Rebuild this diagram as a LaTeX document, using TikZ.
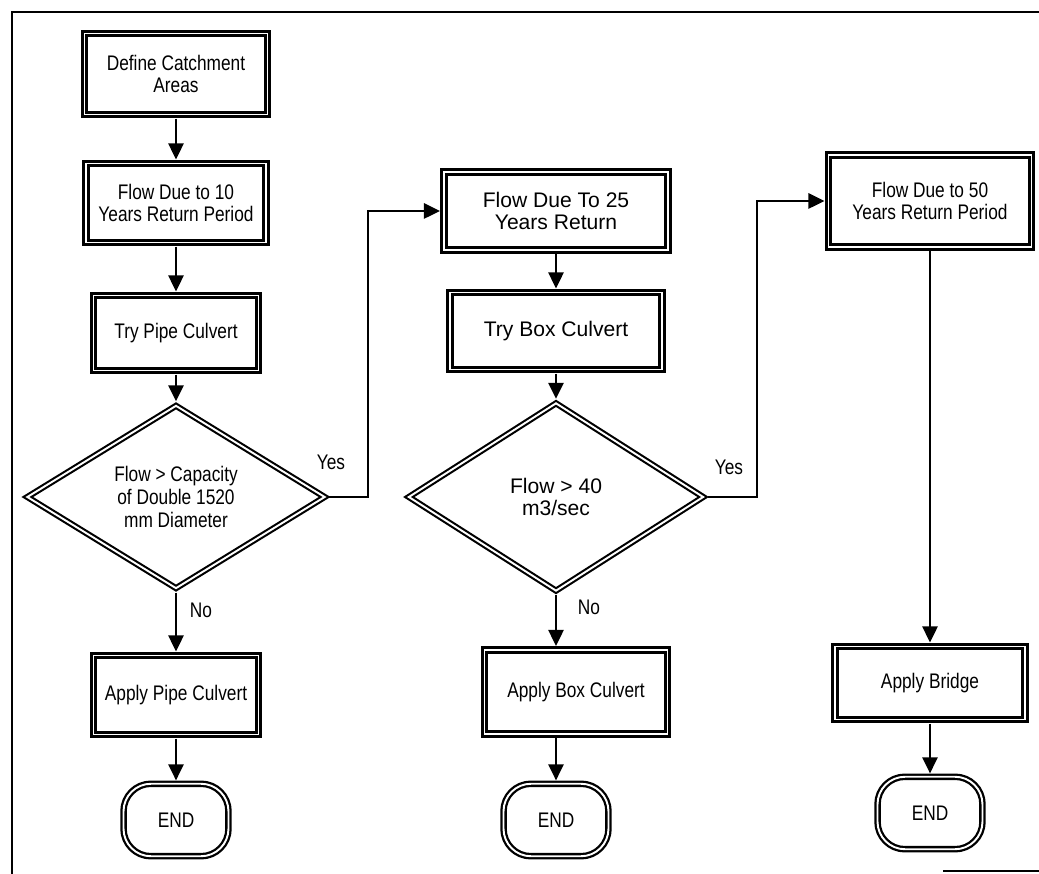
\documentclass[tikz,border=0pt]{standalone}
\usepackage{fontspec}
\setmainfont{Liberation Sans}[FakeStretch=0.82]
\newfontfamily\wideface{Liberation Sans}
\usetikzlibrary{arrows.meta,shapes.geometric}
\tikzset{
  flowbox/.style={draw,double,line width=1.7pt,double distance=1.1pt,outer sep=2.3pt,
    align=center,inner sep=2pt,font=\fontsize{12}{13}\selectfont},
  testbox/.style={draw,double,diamond,aspect=1.6,line width=1.2pt,double distance=1.1pt,
    outer sep=1.8pt,align=center,inner sep=0pt,font=\fontsize{12}{13}\selectfont},
  endbox/.style={draw,double,rounded corners=0.55cm,line width=1.3pt,double distance=1.1pt,
    outer sep=1.9pt,minimum width=2.1cm,minimum height=1.45cm,font=\fontsize{12}{13}\selectfont},
  arr/.style={line width=1.5pt,-{Triangle[length=0.32cm,width=0.3cm]}},
  lbl/.style={font=\fontsize{12}{13}\selectfont}
}
\begin{document}
\begin{tikzpicture}[x=0.02cm,y=-0.02cm]
\useasboundingbox (0,0) rectangle (1039,874);

\draw[line width=1.1pt] (1039,12) -- (12,12) -- (12,874);
\draw[line width=1.1pt] (943,871) -- (1039,871);

\node[flowbox,minimum width=3.66cm,minimum height=1.62cm] (catch) at (176,74) {Define Catchment\\Areas};
\node[flowbox,minimum width=3.6cm,minimum height=1.58cm] (flowten) at (176,203) {Flow Due to 10\\Years Return Period};
\node[flowbox,minimum width=3.3cm,minimum height=1.5cm] (trypipe) at (176,333) {Try Pipe Culvert};
\node[testbox,minimum width=6cm,minimum height=3.7cm] (testpipe) at (176,497) {Flow > Capacity\\of Double 1520\\mm Diameter};
\node[flowbox,minimum width=3.3cm,minimum height=1.58cm] (applypipe) at (176,695) {Apply Pipe Culvert};
\node[endbox] (endpipe) at (176,820) {END};

\node[flowbox,minimum width=4.48cm,minimum height=1.56cm,font=\wideface\fontsize{12}{13}\selectfont] (flowtwf) at (556,211) {Flow Due To 25\\Years Return};
\node[flowbox,minimum width=4.24cm,minimum height=1.54cm,font=\wideface\fontsize{12}{13}\selectfont] (trybox) at (556,331) {Try Box Culvert};
\node[testbox,minimum width=5.94cm,minimum height=3.8cm,font=\wideface\fontsize{12}{13}\selectfont] (testbox) at (556,497) {Flow > 40\\m3/sec};
\node[flowbox,minimum width=3.66cm,minimum height=1.68cm] (applybox) at (576,692) {Apply Box Culvert};
\node[endbox] (endbox) at (556,820) {END};

\node[flowbox,minimum width=4.06cm,minimum height=1.84cm] (flowfif) at (930,201) {Flow Due to 50\\Years Return Period};
\node[flowbox,minimum width=3.8cm,minimum height=1.46cm] (bridge) at (930,683) {Apply Bridge};
\node[endbox] (endbridge) at (930,813) {END};

\coordinate (turnone) at (368,497);
\coordinate (turntwo) at (757,497);

\draw[arr] (catch) -- (flowten);
\draw[arr] (flowten) -- (trypipe);
\draw[arr] (trypipe) -- (testpipe);
\draw[arr] (testpipe) -- (applypipe);
\draw[arr] (applypipe) -- (endpipe);
\draw[arr] (testpipe.east) -- (turnone) |- (flowtwf);

\draw[arr] (flowtwf) -- (trybox);
\draw[arr] (trybox) -- (testbox);
\draw[arr] (testbox.south) -- (testbox.south |- applybox.north);
\draw[arr] (applybox.south -| endbox.north) -- (endbox);
\draw[arr] (testbox.east) -- (turntwo) |- (flowfif);

\draw[arr] (flowfif) -- (bridge);
\draw[arr] (bridge) -- (endbridge);

\node[lbl] (yesone) at (331,462) {Yes};
\node[lbl] (noone) at (201,610) {No};
\node[lbl] (yestwo) at (729,467) {Yes};
\node[lbl] (notwo) at (589,607) {No};

\end{tikzpicture}
\end{document}
